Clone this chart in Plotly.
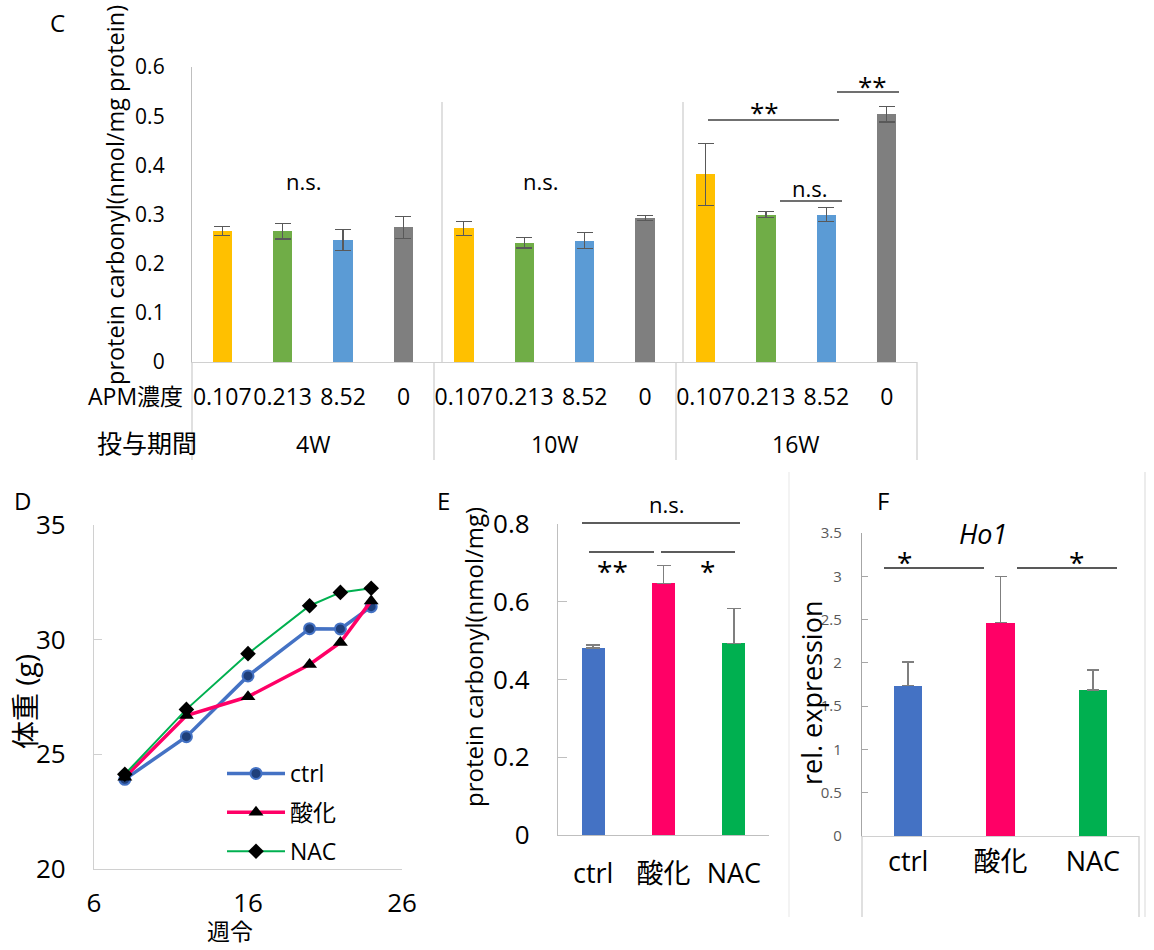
import plotly.graph_objects as go

W, H = 1154, 950
FONT = "Open Sans, Noto Sans CJK JP, sans-serif"

# ---------------- data ----------------
# Panel C
c_conc = ["0.107", "0.213", "8.52", "0"]
c_periods = ["4W", "10W", "16W"]
c_colors = ["#FFC000", "#70AD47", "#5B9BD5", "#7F7F7F"]
c_vals_0107 = [0.266, 0.272, 0.382]
c_vals_0213 = [0.266, 0.243, 0.300]
c_vals_852 = [0.248, 0.247, 0.300]
c_vals_0 = [0.274, 0.293, 0.504]
c_err_0107 = [0.009, 0.014, 0.063]
c_err_0213 = [0.016, 0.011, 0.006]
c_err_852 = [0.022, 0.016, 0.014]
c_err_0 = [0.022, 0.005, 0.016]

# Panel D
d_weeks = [8, 12, 16, 20, 22, 24]
d_ctrl = [23.91, 25.77, 28.42, 30.48, 30.47, 31.44]
d_ox = [24.0, 26.69, 27.51, 28.92, 29.88, 31.69]
d_nac = [24.13, 26.96, 29.39, 31.48, 32.06, 32.24]

# Panel E
groups = ["ctrl", "酸化", "NAC"]
group_colors = ["#4472C4", "#FF0066", "#00B050"]
e_vals = [0.481, 0.647, 0.493]
e_err = [0.008, 0.046, 0.090]

# Panel F
f_vals = [1.738, 2.465, 1.685]
f_err = [0.27, 0.53, 0.23]


def px(x):
    return x / W


def py(y):
    return 1 - y / H


fig = go.Figure()

# ---------------- Panel C ----------------
c_series = [
    (c_vals_0107, c_err_0107),
    (c_vals_0213, c_err_0213),
    (c_vals_852, c_err_852),
    (c_vals_0, c_err_0),
]
for ci, (vals, errs) in enumerate(c_series):
    xs = [p * len(c_conc) + ci + 0.5 for p in range(len(c_periods))]
    fig.add_trace(go.Bar(
        x=xs, y=vals, xaxis="x", yaxis="y", width=0.32,
        marker=dict(color=c_colors[ci], line=dict(width=0)),
        error_y=dict(type="data", array=errs, visible=True, color="#595959",
                     thickness=1.2, width=8),
        showlegend=False, hoverinfo="skip",
    ))

# ---------------- Panel D ----------------
fig.add_trace(go.Scatter(
    x=d_weeks, y=d_ctrl, xaxis="x2", yaxis="y2", mode="lines+markers", name="ctrl",
    line=dict(color="#4472C4", width=3.5),
    marker=dict(symbol="circle", size=11, color="#1F3F7A", line=dict(color="#4472C4", width=2)),
    legendgroup="a",
))
fig.add_trace(go.Scatter(
    x=d_weeks, y=d_ox, xaxis="x2", yaxis="y2", mode="lines+markers", name="酸化",
    line=dict(color="#FF0066", width=3.5),
    marker=dict(symbol="triangle-up", size=13, color="black"),
    legendgroup="b",
))
fig.add_trace(go.Scatter(
    x=d_weeks, y=d_nac, xaxis="x2", yaxis="y2", mode="lines+markers", name="NAC",
    line=dict(color="#00B050", width=2),
    marker=dict(symbol="diamond", size=12, color="black"),
    legendgroup="c",
))

# ---------------- Panel E ----------------
fig.add_trace(go.Bar(
    x=groups, y=e_vals, xaxis="x3", yaxis="y3", width=0.33,
    marker=dict(color=group_colors, line=dict(width=0)),
    error_y=dict(type="data", symmetric=False, array=e_err, arrayminus=[0, 0, 0],
                 visible=True, color="#7F7F7F", thickness=1.5, width=7),
    showlegend=False, hoverinfo="skip",
))

# ---------------- Panel F ----------------
fig.add_trace(go.Bar(
    x=groups, y=f_vals, xaxis="x4", yaxis="y4", width=0.31,
    marker=dict(color=group_colors, line=dict(width=0)),
    error_y=dict(type="data", symmetric=False, array=f_err, arrayminus=[0, 0, 0],
                 visible=True, color="#7F7F7F", thickness=1.5, width=6),
    showlegend=False, hoverinfo="skip",
))

AX = "#D0D0D0"
common = dict(showgrid=False, zeroline=False, showline=True, linewidth=1.3, automargin=False)

layout = dict(
    width=W, height=H,
    margin=dict(l=0, r=0, t=0, b=0, autoexpand=False),
    paper_bgcolor="white", plot_bgcolor="white",
    font=dict(family=FONT, color="black"),
    bargap=0,
    # C axes
    xaxis=dict(domain=[px(192), px(917)], range=[0, 12], anchor="y", linecolor=AX,
               tickmode="array", tickvals=[i + 0.5 for i in range(12)],
               ticktext=c_conc * 3, ticks="", ticklabelstandoff=14, tickangle=0,
               tickfont=dict(size=23), **common),
    yaxis=dict(domain=[py(362), py(67)], range=[0, 0.6], dtick=0.1, anchor="x",
               linecolor="#BFBFBF", ticks="", tickformat=".1~f", ticklabelstandoff=22,
               tickfont=dict(size=21), **common),
    # D axes
    xaxis2=dict(domain=[px(94), px(402)], range=[6, 26], dtick=10, tick0=6, anchor="y2",
                linecolor=AX, ticks="", ticklabelstandoff=11, tickfont=dict(size=26),
                **common),
    yaxis2=dict(domain=[py(869), py(525)], range=[20, 35], dtick=5, anchor="x2",
                linecolor=AX, ticks="inside", ticklen=8, tickcolor=AX,
                ticklabelstandoff=22, tickfont=dict(size=26), **common),
    # E axes
    xaxis3=dict(domain=[px(558), px(769)], range=[-0.5, 2.5], anchor="y3",
                linecolor="#BFBFBF", ticks="", ticklabelstandoff=14,
                tickfont=dict(size=27), **common),
    yaxis3=dict(domain=[py(835), py(524)], range=[0, 0.8], dtick=0.2, anchor="x3",
                linecolor="#BFBFBF", ticks="inside", ticklen=9, tickcolor="#BFBFBF",
                tickformat=".1~f", ticklabelstandoff=22, tickfont=dict(size=26), **common),
    # F axes
    xaxis4=dict(domain=[px(862), px(1139)], range=[-0.5, 2.5], anchor="y4",
                linecolor=AX, ticks="", ticklabelstandoff=1, tickfont=dict(size=27),
                **common),
    yaxis4=dict(domain=[py(836), py(533)], range=[0, 3.5], dtick=0.5, anchor="x4",
                linecolor="#A6A6A6", ticks="inside", ticklen=6, tickcolor="#A6A6A6",
                ticklabelstandoff=16, tickfont=dict(size=15, color="#595959"), **common),
    legend=dict(x=px(222), y=py(752), xanchor="left", yanchor="top",
                font=dict(size=23), tracegroupgap=6, bgcolor="rgba(0,0,0,0)",
                itemwidth=58),
)
fig.update_layout(**layout)

shapes = []


def pline(x0, y0, x1, y1, color=AX, width=1.3):
    shapes.append(dict(type="line", xref="paper", yref="paper",
                       x0=px(x0), y0=py(y0), x1=px(x1), y1=py(y1),
                       line=dict(color=color, width=width)))


# C category box
for xx in [192, 434, 676, 917]:
    pline(xx, 362, xx, 460)
# C period dividers in plot area
for xx in [442, 683]:
    pline(xx, 102, xx, 362)
# C significance lines
pline(708, 120, 839, 120, "#404040", 1.3)
pline(780, 201, 842, 201, "#404040", 1.3)
pline(837, 92, 899, 92, "#404040", 1.3)

# E significance lines
pline(582, 523, 740, 523, "#262626", 1.3)
pline(589, 552, 654, 552, "#262626", 1.3)
pline(661, 552, 735, 552, "#262626", 1.3)

# F category box and frame
for xx in [862, 1139]:
    pline(xx, 836, xx, 917)
pline(789, 472, 789, 917, "#EFEFEF", 1.5)
pline(1145, 472, 1145, 917, "#E6E6E6", 1.5)
# F significance lines
pline(884, 568, 984, 568, "#595959", 2)
pline(1017, 568, 1117, 568, "#595959", 2)

fig.update_layout(shapes=shapes)

ann = []


def ptext(x, y, text, size, angle=0, color="black", italic=False, xanchor="center"):
    t = f"<i>{text}</i>" if italic else text
    ann.append(dict(xref="paper", yref="paper", x=px(x), y=py(y), text=t,
                    showarrow=False, textangle=angle, xanchor=xanchor, yanchor="middle",
                    font=dict(size=size, color=color, family=FONT)))


# Panel letters
ptext(57, 22, "C", 24)
ptext(23, 500, "D", 24)
ptext(443, 500, "E", 24)
ptext(883, 500, "F", 24)

# C texts
ptext(115, 195, "protein carbonyl(nmol/mg protein)", 23.5, angle=-90)
ptext(135, 396, "APM濃度", 23)
ptext(147, 443, "投与期間", 25)
for i, p in enumerate(c_periods):
    ann.append(dict(xref="x", yref="paper", x=i * 4 + 2, y=py(444), text=p,
                    showarrow=False, font=dict(size=23, family=FONT)))
ptext(304, 181, "n.s.", 22)
ptext(541, 181, "n.s.", 22)
ptext(810, 188, "n.s.", 22)
ptext(764, 112, "**", 26)
ptext(873, 86, "**", 26)

# D texts
ptext(25, 702, "体重 (g)", 28, angle=-90)
ptext(230, 931, "週令", 23)

# E texts
ptext(473, 657, "protein carbonyl(nmol/mg)", 24, angle=-90)
ptext(667, 504, "n.s.", 22)
ptext(612, 571, "**", 28)
ptext(707, 571, "*", 28)

# F texts
ptext(811, 693, "rel. expression", 27, angle=-90)
ptext(983, 533, "Ho1", 27, italic=True)
ptext(904, 562, "*", 28)
ptext(1076, 562, "*", 28)

fig.update_layout(annotations=ann)

fig.write_html("out.html", config={"displayModeBar": False},
               post_script="document.body.style.margin='0';document.body.style.padding='0';")
